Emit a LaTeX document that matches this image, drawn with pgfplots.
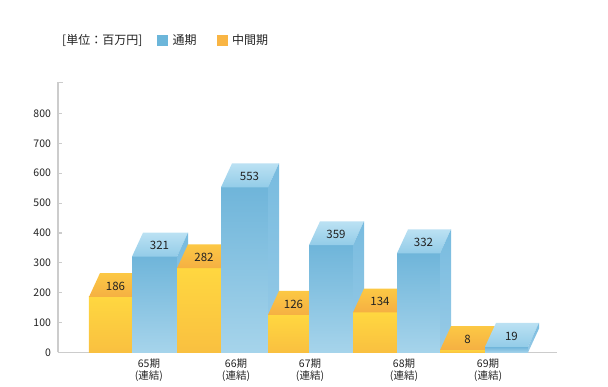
\documentclass[border=0pt]{standalone}
\usepackage{fontspec}
\setmainfont{Noto Sans CJK JP}
\usepackage{pgfplots}
\usepackage{pgfplotstable}
\pgfplotsset{compat=1.18}

\definecolor{axisgray}{HTML}{CCCCCC}
\definecolor{txt}{HTML}{222222}
\definecolor{Yft}{HTML}{FFD740}
\definecolor{Yfb}{HTML}{F9C040}
\definecolor{Ytt}{HTML}{FCC844}
\definecolor{Ytb}{HTML}{F5B043}
\definecolor{Yst}{HTML}{F3B43C}
\definecolor{Ysb}{HTML}{F6BE3E}
\definecolor{Bft}{HTML}{6FB5DA}
\definecolor{Bfb}{HTML}{A6D4EB}
\definecolor{Btt}{HTML}{BBE1F3}
\definecolor{Btb}{HTML}{93CCE8}
\definecolor{Bst}{HTML}{78BBDF}
\definecolor{Bsb}{HTML}{98CBE7}
\definecolor{legB}{HTML}{6CB6DA}
\definecolor{legY}{HTML}{F9B544}

% unit shapes of the faces: x = x0 + a*w + c*dx, y = h*v + c*dy
\pgfplotstableread{
a h c
0 0 0
1 0 0
1 1 0
0 1 0
}\frontshape
\pgfplotstableread{
a h c
0 1 0
1 1 0
1 1 1
0 1 1
}\topshape
\pgfplotstableread{
a h c
1 0 0
1 0 1
1 1 1
1 1 0
}\sideshape
\pgfplotstableread{
a h c
0.5 1 0.45
}\labelshape

\newcommand\dx{11}
\newcommand\dy{80}
% #1 = left x, #2 = width, #3 = value, #4 = series (Y or B)
\newcommand{\tdbar}[4]{%
  \addplot[draw=none, top color=#4ft, bottom color=#4fb]
    table[x expr={#1+\thisrow{a}*#2+\thisrow{c}*\dx}, y expr={\thisrow{h}*#3+\thisrow{c}*\dy}] {\frontshape};
  \addplot[draw=none, top color=#4tt, bottom color=#4tb]
    table[x expr={#1+\thisrow{a}*#2+\thisrow{c}*\dx}, y expr={\thisrow{h}*#3+\thisrow{c}*\dy}] {\topshape};
  \addplot[draw=none, top color=#4st, bottom color=#4sb]
    table[x expr={#1+\thisrow{a}*#2+\thisrow{c}*\dx}, y expr={\thisrow{h}*#3+\thisrow{c}*\dy}] {\sideshape};
  \addplot[draw=none, mark=none, nodes near coords={#3},
    every node near coord/.append style={anchor=center, inner sep=0pt, font=\fontsize{11.5}{13}\selectfont, text=txt}]
    table[x expr={#1+\thisrow{a}*#2+\thisrow{c}*\dx}, y expr={\thisrow{h}*#3+\thisrow{c}*\dy}] {\labelshape};
}

\begin{document}
\begin{tikzpicture}
\begin{axis}[
  scale only axis, width=499pt, height=270.37pt,
  xmin=58, xmax=557, ymin=0, ymax=905,
  clip=false, enlargelimits=false,
  axis x line*=bottom, axis y line*=left,
  axis line style={draw=axisgray, line width=1.8pt, -},
  tick align=inside,
  major tick length=4pt,
  ytick={0,100,...,800},
  y tick style={draw=axisgray, line width=1.2pt},
  yticklabel style={font=\fontsize{10.5}{12}\selectfont, text=txt, xshift=-3.5pt},
  /pgf/number format/assume math mode=true,
  xtick={149,236,310,404,488},
  xticklabels={{65期\\(連結)},{66期\\(連結)},{67期\\(連結)},{68期\\(連結)},{69期\\(連結)}},
  xticklabel style={align=center, font=\fontsize{10.5}{12.5}\selectfont, text=txt, yshift=-2.5pt},
  x tick style={draw=none},
  extra y ticks={905}, extra y tick labels={},
  extra y tick style={tick style={draw=axisgray, line width=1.2pt}, major tick length=5pt},
  extra x ticks={557}, extra x tick labels={},
  extra x tick style={tick style={draw=axisgray, line width=1.8pt}, major tick length=6pt},
  legend columns=2,
  legend style={at={(axis cs:157,1046)}, anchor=west, draw=none, fill=none,
    inner sep=0pt, font=\fontsize{12}{14}\selectfont, text=txt,
    nodes={inner sep=0pt},
    /tikz/every odd column/.append style={column sep=5pt},
    /tikz/every even column/.append style={column sep=20pt}},
]
\addlegendimage{legend image code/.code={\fill[legB] (0pt,-5pt) rectangle (10pt,5pt);}}
\addlegendentry{通期}
\addlegendimage{legend image code/.code={\fill[legY] (0pt,-5pt) rectangle (10pt,5pt);}}
\addlegendentry{中間期}

\node[anchor=west, inner sep=0pt, font=\fontsize{12}{14}\selectfont, text=txt] at (axis cs:62,1046) {[単位：百万円]};

% category 65
\tdbar{89}{43}{186}{Y}
\tdbar{132}{45}{321}{B}
% category 66
\tdbar{177}{44}{282}{Y}
\tdbar{221}{47}{553}{B}
% category 67
\tdbar{268}{41}{126}{Y}
\tdbar{309}{44}{359}{B}
% category 68
\tdbar{353}{44}{134}{Y}
\tdbar{397}{43}{332}{B}
% category 69
\tdbar{440}{45}{8}{Y}
\tdbar{485}{43}{19}{B}

\coordinate (bl) at (axis cs:0,-115.48);
\coordinate (tr) at (axis cs:608,1179.9);
\end{axis}
\pgfresetboundingbox
\path (bl) rectangle (tr);
\end{tikzpicture}
\end{document}
